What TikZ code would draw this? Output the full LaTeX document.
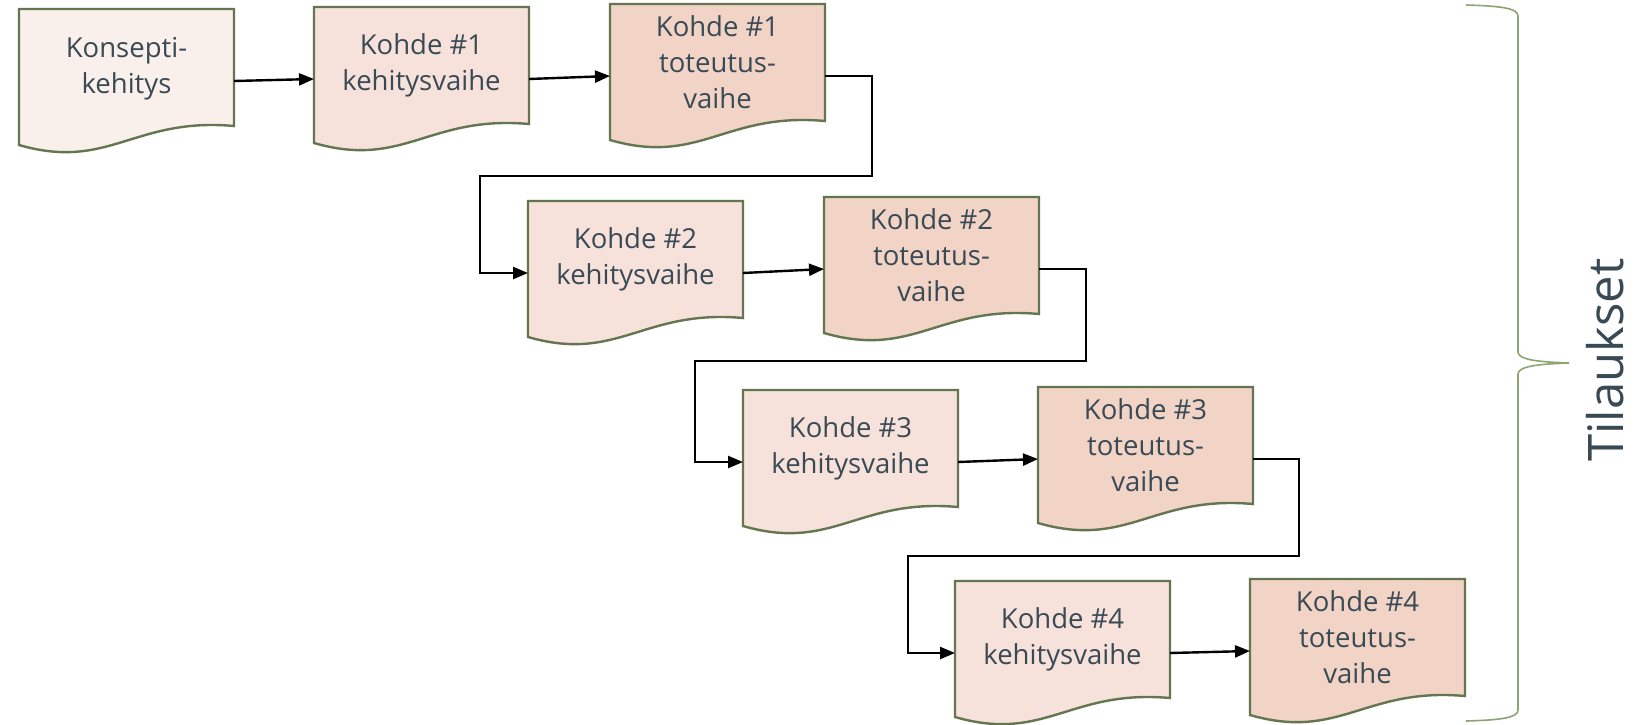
\documentclass[tikz,border=0pt]{standalone}
\usepackage{fontspec}
\setmainfont{Open Sans}
\usetikzlibrary{arrows.meta,calc}
\definecolor{konsfill}{RGB}{250,240,235}
\definecolor{kehfill}{RGB}{247,226,219}
\definecolor{totfill}{RGB}{242,212,199}
\definecolor{boxline}{RGB}{100,118,80}
\definecolor{txtcol}{RGB}{58,74,85}
\definecolor{bracecol}{RGB}{140,165,115}
\tikzset{
  docnode/.style={draw=none,minimum width=215pt,minimum height=144pt,inner sep=0pt,outer sep=0pt,anchor=north west},
  docline/.style={draw=boxline,line width=2.4pt,line join=miter},
  txt/.style={align=center,text=txtcol,font=\fontsize{27.5}{36}\selectfont,inner sep=0pt},
  conn/.style={draw=black,line width=2.4pt,-{Triangle[length=15pt,width=12pt]}},
  bracestyle/.style={draw=bracecol,line width=1.6pt}
}
\newcommand\docshape[2]{%
  \filldraw[docline,fill=#2] (#1.north west) -- (#1.north east) -- ([yshift=-117pt]#1.north east)
   .. controls ([xshift=-100pt,yshift=-108pt]#1.north east) and ([xshift=-125pt,yshift=-162pt]#1.north east)
   .. ([yshift=-136pt]#1.north west) -- cycle;}
\begin{document}
\begin{tikzpicture}[x=1pt,y=-1pt]
\fill[white] (0,0) rectangle (1643,724);
\useasboundingbox (0,0) rectangle (1643,724);
% boxes
\node[docnode] (b0) at (19,9) {};
\node[docnode] (b1) at (314,7) {};
\node[docnode] (b2) at (610,4) {};
\node[docnode] (b3) at (528,201) {};
\node[docnode] (b4) at (824,197) {};
\node[docnode] (b5) at (743,390) {};
\node[docnode] (b6) at (1038,387) {};
\node[docnode] (b7) at (955,581) {};
\node[docnode] (b8) at (1250,579) {};
\docshape{b0}{konsfill}
\docshape{b1}{kehfill}
\docshape{b2}{totfill}
\docshape{b3}{kehfill}
\docshape{b4}{totfill}
\docshape{b5}{kehfill}
\docshape{b6}{totfill}
\docshape{b7}{kehfill}
\docshape{b8}{totfill}
\node[txt] (t0) at ([yshift=-60pt]b0.north) {Konsepti-\\kehitys};
\node[txt] (t1) at ([yshift=-58pt]b1.north) {Kohde \#1\\kehitysvaihe};
\node[txt] (t2) at ([yshift=-58pt]b2.north) {Kohde \#1\\toteutus-\\vaihe};
\node[txt] (t3) at ([yshift=-58pt]b3.north) {Kohde \#2\\kehitysvaihe};
\node[txt] (t4) at ([yshift=-58pt]b4.north) {Kohde \#2\\toteutus-\\vaihe};
\node[txt] (t5) at ([yshift=-58pt]b5.north) {Kohde \#3\\kehitysvaihe};
\node[txt] (t6) at ([yshift=-58pt]b6.north) {Kohde \#3\\toteutus-\\vaihe};
\node[txt] (t7) at ([yshift=-58pt]b7.north) {Kohde \#4\\kehitysvaihe};
\node[txt] (t8) at ([yshift=-58pt]b8.north) {Kohde \#4\\toteutus-\\vaihe};
% connector corners
\coordinate (c1) at (872,176);
\coordinate (c2) at (480,176);
\coordinate (c3) at (1086,361);
\coordinate (c4) at (695,361);
\coordinate (c5) at (1299,556);
\coordinate (c6) at (908,556);
% connectors
\draw[conn] (b0.east) -- (b1.west);
\draw[conn] (b1.east) -- (b2.west);
\draw[conn] (b2.east) -| (c1) -- (c2) |- (b3.west);
\draw[conn] (b3.east) -- (b4.west);
\draw[conn] (b4.east) -| (c3) -- (c4) |- (b5.west);
\draw[conn] (b5.east) -- (b6.west);
\draw[conn] (b6.east) -| (c5) -- (c6) |- (b7.west);
\draw[conn] (b7.east) -- (b8.west);
% brace
\draw[bracestyle] (1466,5) .. controls (1500,6) and (1518,8) .. (1518,16) -- (1518,352)
  .. controls (1518,360) and (1540,362) .. (1569,363)
  .. controls (1540,364) and (1518,366) .. (1518,374) -- (1518,710)
  .. controls (1518,718) and (1500,720) .. (1466,721);
\node[rotate=90,inner sep=0pt,text=txtcol,font=\fontsize{49}{55}\selectfont] (til) at (1605,360) {Tilaukset};
\end{tikzpicture}
\end{document}
